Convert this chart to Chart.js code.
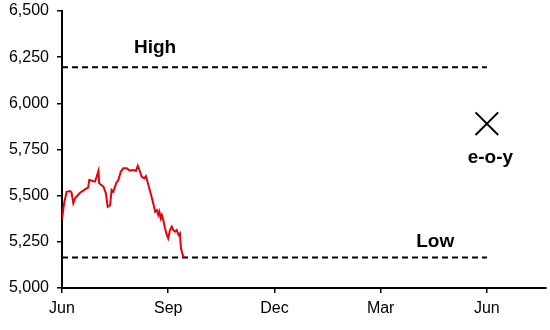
<!DOCTYPE html>
<html lang="en">
<head>
<meta charset="UTF-8">
<title>Index range</title>
<script src="https://cdn.jsdelivr.net/npm/chart.js"></script>
<style>
  html, body { margin: 0; padding: 0; background: #fff; }
  .wrap { width: 550px; height: 330px; position: relative; }
</style>
</head>
<body>
<div class="wrap"><canvas id="chart"></canvas></div>
<script>
// x in months since Jun (Jun=0, Sep=3, Dec=6, Mar=9, Jun=12)
const tickMonths = [0, 3, 6, 9, 12];
const tickLabels = ['Jun', 'Sep', 'Dec', 'Mar', 'Jun'];

const priceX = [0, 0.06, 0.13, 0.23, 0.27, 0.32, 0.37, 0.51, 0.65, 0.74, 0.77, 0.84, 0.93, 0.98, 1.03,
  1.05, 1.17, 1.24, 1.29, 1.36, 1.40, 1.45, 1.53, 1.59, 1.66, 1.73, 1.83, 1.92, 2.01, 2.09,
  2.14, 2.18, 2.25, 2.32, 2.37, 2.44, 2.53, 2.60, 2.63, 2.68, 2.72, 2.75, 2.79, 2.82, 2.86,
  2.91, 2.96, 3.00, 3.05, 3.10, 3.14, 3.19, 3.24, 3.29, 3.33, 3.36, 3.41, 3.45];
const priceY = [5370, 5459, 5521, 5525, 5516, 5459, 5486, 5516, 5534, 5545, 5585, 5581, 5576, 5603, 5634,
  5567, 5549, 5513, 5440, 5449, 5531, 5521, 5567, 5585, 5630, 5648, 5648, 5635, 5639, 5635,
  5662, 5643, 5603, 5594, 5606, 5558, 5494, 5440, 5413, 5422, 5395, 5413, 5377, 5395, 5368,
  5323, 5287, 5269, 5314, 5332, 5314, 5305, 5314, 5287, 5296, 5215, 5179, 5166];

const highLevel = 6195;
const lowLevel = 5165;
const rangeX = [0, 12];
const eoyX = 12;
const eoyY = 5890;

// text labels: [text, x (months), y (value)]
const notes = [
  ['High', 2.63, 6300],
  ['Low', 10.54, 5250],
  ['e-o-y', 12.1, 5705]
];

const toPoints = (xs, ys) => xs.map((x, i) => ({ x: x, y: ys[i] }));

// drop the tick label overflow padding, layout.padding sets the plot box instead
const noPad = s => { s.paddingTop = s.paddingBottom = s.paddingLeft = s.paddingRight = 0; };

const notePlugin = {
  id: 'notes',
  afterDatasetsDraw(chart) {
    const ctx = chart.ctx;
    const sx = chart.scales.x, sy = chart.scales.y;
    ctx.save();
    ctx.fillStyle = '#000';
    ctx.font = 'bold 19px "Liberation Sans", Arial, sans-serif';
    ctx.textAlign = 'center';
    ctx.textBaseline = 'middle';
    notes.forEach(n => {
      ctx.fillText(n[0], sx.getPixelForValue(n[1]), sy.getPixelForValue(n[2]));
    });
    ctx.restore();
  }
};

new Chart(document.getElementById('chart'), {
  type: 'scatter',
  data: {
    datasets: [
      {
        data: toPoints(priceX, priceY),
        showLine: true,
        borderColor: '#e8000b',
        borderWidth: 2,
        pointRadius: 0,
        tension: 0
      },
      {
        data: toPoints(rangeX, [highLevel, highLevel]),
        showLine: true,
        borderColor: '#000',
        borderWidth: 2,
        borderDash: [6, 4],
        pointRadius: 0
      },
      {
        data: toPoints(rangeX, [lowLevel, lowLevel]),
        showLine: true,
        borderColor: '#000',
        borderWidth: 2,
        borderDash: [6, 4],
        pointRadius: 0
      },
      {
        data: [{ x: eoyX, y: eoyY }],
        pointStyle: 'crossRot',
        pointRadius: 16,
        borderColor: '#000',
        borderWidth: 2,
        backgroundColor: '#000'
      }
    ]
  },
  options: {
    responsive: true,
    maintainAspectRatio: false,
    animation: false,
    layout: { autoPadding: false, padding: { top: 11, right: 4, left: 0, bottom: 0 } },
    plugins: { legend: { display: false }, tooltip: { enabled: false } },
    scales: {
      x: {
        type: 'linear',
        min: 0,
        max: 13.67,
        afterBuildTicks: s => { s.ticks = tickMonths.map(v => ({ value: v })); },
        afterFit: s => { s.height = 42; noPad(s); },
        ticks: {
          color: '#000',
          padding: 6,
          font: { family: '"Liberation Sans", Arial, sans-serif', size: 16 },
          callback: v => tickLabels[tickMonths.indexOf(v)]
        },
        grid: { drawOnChartArea: false, drawTicks: true, tickLength: 5, color: '#000', lineWidth: 1.5 },
        border: { display: true, color: '#000', width: 2 }
      },
      y: {
        min: 5000,
        max: 6500,
        afterFit: s => { s.width = 62; noPad(s); },
        ticks: {
          stepSize: 250,
          color: '#000',
          padding: 8,
          font: { family: '"Liberation Sans", Arial, sans-serif', size: 16 },
          callback: v => v.toLocaleString('en-US')
        },
        grid: { drawOnChartArea: false, drawTicks: true, tickLength: 5, color: '#000', lineWidth: 1.5 },
        border: { display: true, color: '#000', width: 2 }
      }
    }
  },
  plugins: [notePlugin]
});
</script>
</body>
</html>
